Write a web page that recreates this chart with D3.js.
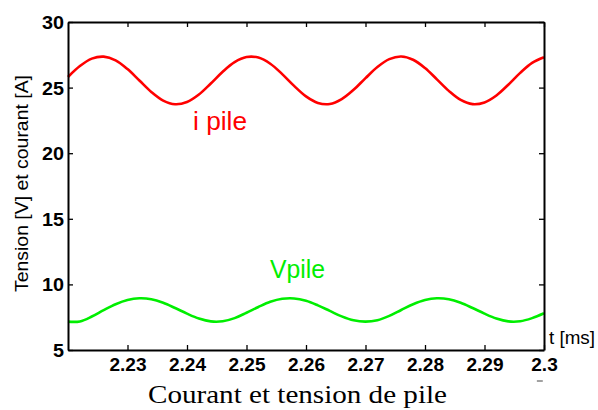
<!DOCTYPE html>
<html>
<head>
<meta charset="utf-8">
<script src="https://cdn.jsdelivr.net/npm/d3@7"></script>
<style>
  html, body { margin: 0; padding: 0; background: #fff; }
  svg { display: block; }
  text { font-family: "Liberation Sans", Arial, sans-serif; }
</style>
</head>
<body>
<svg id="chart" width="598" height="410"></svg>
<script>
// ---- data ----
const time = [2.220,2.222,2.224,2.226,2.228,2.230,2.232,2.234,2.236,2.238,
              2.240,2.242,2.244,2.246,2.248,2.250,2.252,2.254,2.256,2.258,
              2.260,2.262,2.264,2.266,2.268,2.270,2.272,2.274,2.276,2.278,
              2.280,2.282,2.284,2.286,2.288,2.290,2.292,2.294,2.296,2.298,2.300];
const iPile = [25.81,26.64,27.21,27.36,27.08,26.41,25.54,24.67,24.01,23.73,
               23.90,24.47,25.31,26.21,26.94,27.33,27.29,26.82,26.03,25.13,
               24.33,23.83,23.75,24.12,24.83,25.72,26.57,27.17,27.37,27.12,
               26.49,25.63,24.75,24.06,23.74,23.87,24.40,25.22,26.12,26.88,27.31];
const vPile = [7.16,7.18,7.55,8.04,8.49,8.81,8.94,8.87,8.60,8.20,
               7.77,7.40,7.18,7.19,7.43,7.84,8.28,8.67,8.90,8.93,
               8.75,8.40,7.98,7.56,7.26,7.16,7.27,7.60,8.05,8.49,
               8.81,8.94,8.87,8.60,8.20,7.77,7.40,7.18,7.19,7.43,7.80];
const xTicks = [2.23, 2.24, 2.25, 2.26, 2.27, 2.28, 2.29, 2.30];
const xTickLabels = ["2.23","2.24","2.25","2.26","2.27","2.28","2.29","2.3"];
const yTicks = [5, 10, 15, 20, 25, 30];
const yTickLabels = ["5","10","15","20","25","30"];
const xDomain = [2.22, 2.30];
const yDomain = [5, 30];

// ---- layout ----
const svg = d3.select("#chart");
const m = {left: 68, top: 22, right: 54, bottom: 60};
const W = 598, H = 410;
const pw = W - m.left - m.right;   // 476
const ph = H - m.top - m.bottom;   // 328

const x = d3.scaleLinear().domain(xDomain).range([m.left, m.left + pw]);
const y = d3.scaleLinear().domain(yDomain).range([m.top + ph, m.top]);

function stretch(sel, factor) {
  sel.each(function() {
    const len = this.getComputedTextLength();
    this.setAttribute("textLength", len * factor);
    this.setAttribute("lengthAdjust", "spacingAndGlyphs");
  });
}

// lines
const line = d3.line().curve(d3.curveCatmullRom)
  .x((d, i) => x(time[i])).y(d => y(d));

const plot = svg.append("g");
plot.append("path").datum(iPile).attr("d", line)
  .attr("fill", "none").attr("stroke", "#ff0000").attr("stroke-width", 2.6);
plot.append("path").datum(vPile).attr("d", line)
  .attr("fill", "none").attr("stroke", "#00ee00").attr("stroke-width", 2.6);

// axes
const fmtX = d => xTickLabels[xTicks.indexOf(d)];
const fmtY = d => yTickLabels[yTicks.indexOf(d)];

const gx = svg.append("g").attr("transform", `translate(0,${m.top + ph})`)
  .call(d3.axisBottom(x).tickValues(xTicks).tickFormat(fmtX)
        .tickSizeInner(-5).tickSizeOuter(0).tickPadding(8));
const gxt = svg.append("g").attr("transform", `translate(0,${m.top})`)
  .call(d3.axisTop(x).tickValues(xTicks).tickFormat("")
        .tickSizeInner(-5).tickSizeOuter(0));
const gy = svg.append("g").attr("transform", `translate(${m.left},0)`)
  .call(d3.axisLeft(y).tickValues(yTicks).tickFormat(fmtY)
        .tickSizeInner(-5).tickSizeOuter(0).tickPadding(4));
const gyr = svg.append("g").attr("transform", `translate(${m.left + pw},0)`)
  .call(d3.axisRight(y).tickValues(yTicks).tickFormat("")
        .tickSizeInner(-5).tickSizeOuter(0));

[gx, gxt, gy, gyr].forEach(g => {
  g.select(".domain").attr("stroke", "#000").attr("stroke-width", 2);
  g.selectAll(".tick line").attr("stroke", "#000").attr("stroke-width", 1.3);
});
gx.selectAll(".tick text").attr("font-size", 18.5).attr("font-weight", "bold")
  .attr("fill", "#000").call(stretch, 1.03);
gy.selectAll(".tick text").attr("font-size", 18).attr("font-weight", "bold")
  .attr("fill", "#000").attr("dy", "0.36em").call(stretch, 1.1);

// small mark under the last x label
svg.append("line").attr("x1", x(2.2988)).attr("x2", x(2.2998))
  .attr("y1", 381).attr("y2", 381).attr("stroke", "#444").attr("stroke-width", 1);

// texts
svg.append("text").attr("x", 193).attr("y", 130)
  .attr("font-size", 25).attr("fill", "#ff0000").text("i pile")
  .attr("textLength", 54).attr("lengthAdjust", "spacingAndGlyphs");
svg.append("text").attr("x", 270).attr("y", 278)
  .attr("font-size", 25).attr("fill", "#00ee00").text("Vpile")
  .attr("textLength", 55).attr("lengthAdjust", "spacingAndGlyphs");
svg.append("text").attr("x", 549).attr("y", 344)
  .attr("font-size", 17.5).attr("fill", "#000").text("t [ms]")
  .attr("textLength", 46).attr("lengthAdjust", "spacingAndGlyphs");
svg.append("text").attr("transform", "translate(28,183.5) rotate(-90)")
  .attr("text-anchor", "middle").attr("font-size", 17.5).attr("fill", "#000")
  .text("Tension [V] et courant [A]")
  .attr("textLength", 217).attr("lengthAdjust", "spacingAndGlyphs");
svg.append("text").attr("x", 297.5).attr("y", 403)
  .attr("text-anchor", "middle")
  .style("font-family", "'Liberation Serif', 'Times New Roman', serif")
  .attr("font-size", 25).attr("fill", "#000").text("Courant et tension de pile")
  .attr("textLength", 299).attr("lengthAdjust", "spacingAndGlyphs");
</script>
</body>
</html>
